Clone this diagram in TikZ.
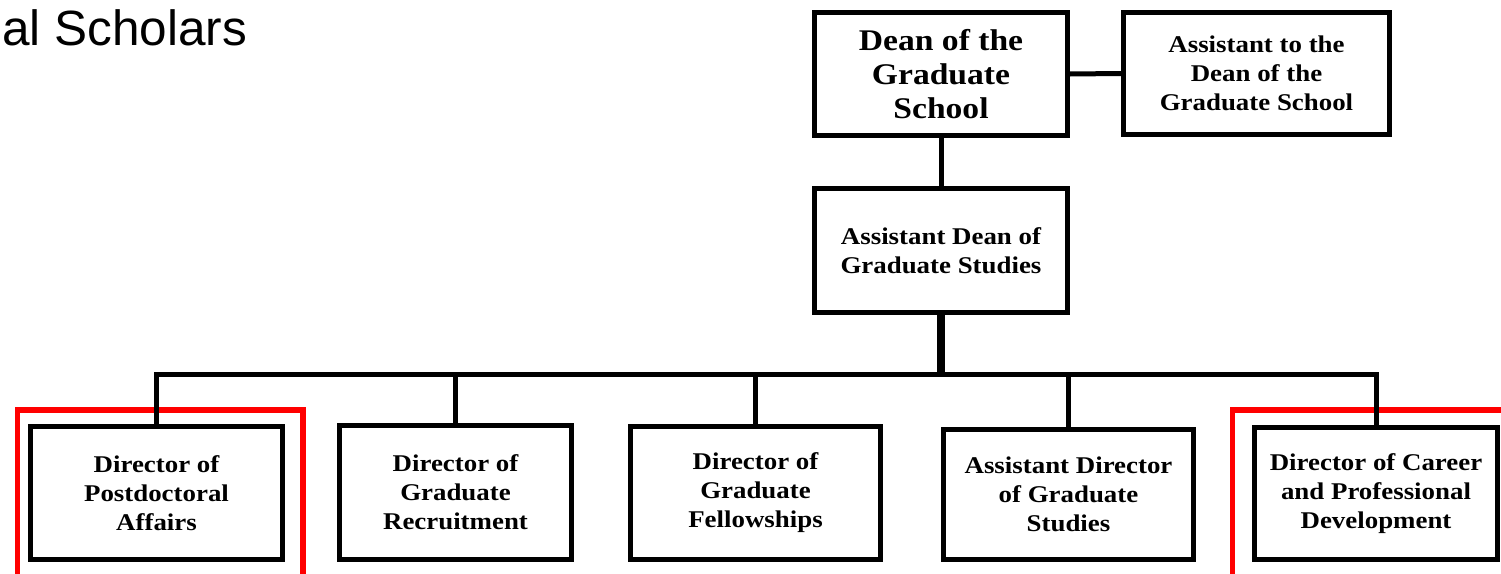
\documentclass[tikz,border=0pt]{standalone}
\usepackage{fontspec}
\setmainfont{Liberation Serif}
\newfontfamily\boxfont{Liberation Serif}[FakeStretch=1.12]
\newfontfamily\titlefont{Liberation Sans}
\begin{document}
\begin{tikzpicture}[x=1pt,y=-1pt,
  box/.style={draw=black,line width=5pt,fill=white,inner sep=0pt,align=center,
    font=\boxfont\bfseries\fontsize{24}{29}\selectfont},
  conn/.style={draw=black,line width=5pt},
  hilite/.style={draw=red,line width=5.5pt}]
\useasboundingbox (0,0) rectangle (1501,573);
% title fragment
\node[anchor=base west,inner sep=0pt,font=\titlefont\fontsize{49.5}{50}\selectfont] (title) at (2,45) {al Scholars};
% red highlight frames
\draw[hilite] (17.5,575) -- (17.5,410) -- (303,410) -- (303,575);
\draw[hilite] (1232.5,575) -- (1232.5,410) -- (1505,410);
% boxes
\node[box,minimum width=253pt,minimum height=123pt,font=\boxfont\bfseries\fontsize{30}{34}\selectfont] (dean) at (941,74) {Dean of the\\Graduate\\School};
\node[box,minimum width=266pt,minimum height=122pt] (asst) at (1256.5,73.5) {Assistant to the\\Dean of the\\Graduate School};
\node[box,minimum width=253pt,minimum height=124pt] (adean) at (941,250.5) {Assistant Dean of\\Graduate Studies};
\node[box,minimum width=252pt,minimum height=133pt] (b1) at (156.5,493) {Director of\\Postdoctoral\\Affairs};
\node[box,minimum width=232pt,minimum height=134pt] (b2) at (455.5,492.5) {Director of\\Graduate\\Recruitment};
\node[box,minimum width=250pt,minimum height=133pt] (b3) at (755.5,493) {Director of\\Graduate\\Fellowships};
\node[box,minimum width=250pt,minimum height=130pt] (b4) at (1068.5,494.5) {Assistant Director\\of Graduate\\Studies};
\node[box,minimum width=243pt,minimum height=132pt] (b5) at (1376,493.5) {Director of Career\\and Professional\\Development};
\coordinate (bus) at (941,374);
% connectors
\draw[conn] (dean.east) -- (asst.west);
\draw[conn] (dean.south) -- (adean.north);
\draw[conn,line width=8pt] (adean.south) -- (bus);
\draw[conn,line join=miter] (b1.north) -- (b1.north |- bus) -- (b5.north |- bus) -- (b5.north);
\draw[conn] (b2.north |- bus) -- (b2.north);
\draw[conn] (b3.north |- bus) -- (b3.north);
\draw[conn] (b4.north |- bus) -- (b4.north);
\end{tikzpicture}
\end{document}
